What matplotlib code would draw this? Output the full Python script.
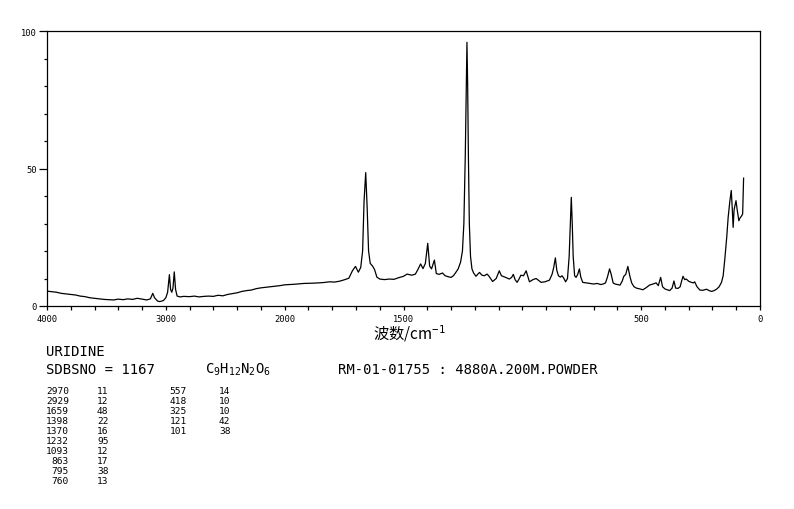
import numpy as np
import matplotlib
matplotlib.use("Agg")
import matplotlib.pyplot as plt
from matplotlib.ticker import FixedLocator, FixedFormatter, NullFormatter

# ---------------- data ----------------
wavenumber = [4000, 3960, 3920, 3880, 3840, 3800, 3760, 3720, 3680, 3640, 3600, 3560, 3520,
              3480, 3440, 3400, 3360, 3320, 3280, 3240, 3200, 3160, 3130, 3110, 3095, 3070,
              3050, 3020, 3000, 2985, 2970, 2960, 2950, 2940, 2929, 2918, 2905, 2880, 2850,
              2800, 2760, 2720, 2680, 2640, 2600, 2560, 2520, 2480, 2440, 2400, 2360, 2320,
              2280, 2240, 2200, 2160, 2120, 2080, 2040, 2000, 1960, 1920, 1880, 1840, 1810,
              1790, 1770, 1750, 1730, 1715, 1702, 1690, 1680, 1672, 1666, 1659, 1653, 1647,
              1640, 1630, 1622, 1612, 1600, 1580, 1560, 1540, 1520, 1500, 1485, 1465, 1450,
              1438, 1428, 1418, 1408, 1398, 1390, 1382, 1370, 1362, 1350, 1336, 1325, 1310,
              1300, 1290, 1280, 1270, 1260, 1252, 1246, 1240, 1236, 1233, 1230, 1227, 1223,
              1218, 1212, 1205, 1195, 1185, 1180, 1170, 1160, 1148, 1140, 1125, 1110, 1097,
              1088, 1070, 1055, 1045, 1038, 1030, 1022, 1014, 1006, 995, 984, 976, 970, 955,
              942, 930, 921, 905, 886, 875, 868, 861, 855, 848, 840, 833, 825, 818, 810, 803,
              798, 794, 790, 786, 780, 774, 767, 760, 754, 746, 730, 715, 700, 685, 670, 660,
              650, 642, 633, 626, 618, 610, 600, 589, 580, 573, 565, 556, 548, 540, 530, 520,
              505, 493, 480, 465, 450, 437, 428, 418, 410, 400, 390, 380, 370, 362, 355, 345,
              336, 330, 324, 317, 310, 300, 289, 280, 275, 265, 253, 240, 225, 214, 204, 193,
              183, 172, 162, 155, 148, 140, 134, 127, 121, 117, 113, 109, 104, 101, 96, 89,
              84, 77, 73, 71, 69]
intensity = [5.4, 5.2, 5.0, 4.6, 4.4, 4.2, 4.0, 3.6, 3.4, 3.0, 2.8, 2.6, 2.4,
             2.3, 2.2, 2.5, 2.3, 2.6, 2.4, 2.8, 2.5, 2.2, 2.6, 4.6, 3.0, 1.8,
             1.6, 2.0, 3.0, 5.0, 11.4, 6.0, 5.0, 6.5, 12.4, 6.0, 3.6, 3.3, 3.5,
             3.4, 3.6, 3.3, 3.5, 3.6, 3.5, 3.9, 3.7, 4.2, 4.5, 4.8, 5.3, 5.6,
             5.8, 6.3, 6.6, 6.8, 7.0, 7.2, 7.4, 7.7, 7.9, 8.2, 8.3, 8.5, 8.8,
             8.7, 9.0, 9.5, 10.1, 12.8, 14.4, 12.3, 14.0, 20, 38, 48.5, 36, 20,
             15.5, 14.5, 13.3, 10.5, 9.8, 9.6, 9.8, 9.7, 10.3, 10.8, 11.6, 11.2, 11.6,
             13.5, 15.3, 13.6, 15.5, 22.8, 14.5, 13.5, 16.7, 11.8, 11.5, 12.0, 11.0, 10.6,
             10.4, 11.0, 12.2, 13.5, 15.9, 20, 30, 55, 80, 95.9, 80, 55, 30,
             18, 13.5, 12.0, 10.8, 11.8, 12.2, 11.2, 11.0, 11.6, 10.8, 8.9, 10.0, 12.8,
             11.0, 10.4, 9.8, 10.4, 11.5, 9.5, 8.6, 9.8, 11.2, 11.0, 12.8, 10.5, 8.8, 9.6,
             10.0, 9.2, 8.6, 8.8, 9.4, 11.5, 14, 17.5, 13, 11.0, 10.5, 11.0, 10.0, 8.8, 10, 18,
             30, 39.5, 30, 18, 11, 10.4, 11.5, 13.5, 10.5, 8.6, 8.4, 8.2, 8.0, 8.2, 7.8, 8.0,
             8.4, 10.5, 13.5, 11.5, 8.4, 8.0, 7.8, 7.6, 9.0, 10.8, 11.5, 14.4, 11, 8.4, 7.0, 6.5,
             6.2, 5.9, 6.6, 7.6, 8.0, 8.4, 7.4, 10.4, 7.0, 6.2, 5.9, 5.6, 6.5, 9.1, 6.5, 6.4,
             7.0, 9, 10.8, 9.6, 9.8, 9.0, 8.6, 8.4, 8.8, 7.0, 5.8, 5.7, 6.1, 5.6, 5.3, 5.6,
             6.1, 7.0, 8.6, 11, 17.1, 25, 32.2, 38, 42, 36, 28.6, 35, 37, 38.3, 35, 31,
             32, 32.8, 33.5, 40, 46.5]

x_major = [4000, 3000, 2000, 1500, 500, 0]
x_major_labels = ["4000", "3000", "2000", "1500", "500", "0"]
y_major = [0, 50, 100]
y_major_labels = ["0", "50", "100"]

compound = "URIDINE"
sdbs_line = "SDBSNO = 1167"
formula = r"C$_9$H$_{12}$N$_2$O$_6$"
sample_line = "RM-01-01755 : 4880A.200M.POWDER"
xlabel_text = "波数/cm$^{-1}$"

peak_wn_1 = ["2970", "2929", "1659", "1398", "1370", "1232", "1093", "863", "795", "760"]
peak_int_1 = ["11", "12", "48", "22", "16", "95", "12", "17", "38", "13"]
peak_wn_2 = ["557", "418", "325", "121", "101"]
peak_int_2 = ["14", "10", "10", "42", "38"]

# ---------------- figure ----------------
W, H = 794, 510
plt.rcParams['mathtext.fontset'] = 'custom'
plt.rcParams['mathtext.rm'] = 'DejaVu Sans Mono'
plt.rcParams['mathtext.it'] = 'DejaVu Sans Mono'
mono = 'DejaVu Sans Mono'

fig = plt.figure(figsize=(W / 100, H / 100), dpi=100)
L, R, T, B = 47, 760, 32, 307
ax = fig.add_axes([L / W, 1 - B / H, (R - L) / W, (B - T) / H])


def fwd(x):
    x = np.asarray(x, dtype=float)
    return np.where(x > 2000, 2000 + (x - 2000) / 2.0, x)


def inv(u):
    u = np.asarray(u, dtype=float)
    return np.where(u > 2000, 2000 + (u - 2000) * 2.0, u)


ax.set_xscale('function', functions=(fwd, inv))
ax.plot(wavenumber, intensity, color='black', lw=0.9)
ax.set_xlim(4000, 0)
ax.set_ylim(0, 100)

minor_x = list(range(4000, 2000, -200)) + list(range(2000, -1, -100))
minor_x = [v for v in minor_x if v not in x_major]
ax.xaxis.set_major_locator(FixedLocator(x_major))
ax.xaxis.set_major_formatter(FixedFormatter(x_major_labels))
ax.xaxis.set_minor_locator(FixedLocator(minor_x))
ax.xaxis.set_minor_formatter(NullFormatter())
ax.yaxis.set_major_locator(FixedLocator(y_major))
ax.yaxis.set_major_formatter(FixedFormatter(y_major_labels))
ax.yaxis.set_minor_locator(FixedLocator([10, 20, 30, 40, 60, 70, 80, 90]))

ax.tick_params(axis='x', which='both', direction='out', length=2.8, width=0.9,
               pad=3, labelsize=6.3)
ax.tick_params(axis='y', which='major', direction='out', length=6, width=0.9,
               pad=1.5, labelsize=6.3)
ax.tick_params(axis='y', which='minor', direction='out', length=2.4, width=0.9)
for lab in ax.get_xticklabels() + ax.get_yticklabels():
    lab.set_family(mono)
for s in ax.spines.values():
    s.set_linewidth(0.9)


def ftext(px, py, s, **kw):
    fig.text(px / W, 1 - py / H, s, **kw)


ftext(409, 334, xlabel_text, fontsize=11, ha='center', va='center',
      family=['Noto Sans CJK SC', 'DejaVu Sans'])

ftext(46, 352, compound, fontsize=10, family=mono, va='center', ha='left')
ftext(46, 370, sdbs_line, fontsize=10, family=mono, va='center', ha='left')
ftext(205, 370, formula, fontsize=10, family=mono, va='center', ha='left')
ftext(338, 370, sample_line, fontsize=10, family=mono, va='center', ha='left')

row0, dy = 391, 10.1
for i, (w, v) in enumerate(zip(peak_wn_1, peak_int_1)):
    ftext(69, row0 + i * dy, w, fontsize=6.8, family=mono, ha='right', va='center')
    ftext(97, row0 + i * dy, v, fontsize=6.8, family=mono, ha='left', va='center')
for i, (w, v) in enumerate(zip(peak_wn_2, peak_int_2)):
    ftext(187, row0 + i * dy, w, fontsize=6.8, family=mono, ha='right', va='center')
    ftext(219, row0 + i * dy, v, fontsize=6.8, family=mono, ha='left', va='center')

fig.savefig("out.png", dpi=100)
